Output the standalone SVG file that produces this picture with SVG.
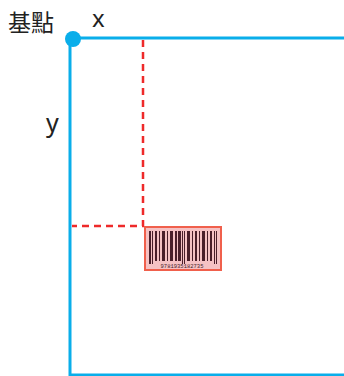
<svg xmlns="http://www.w3.org/2000/svg" width="344" height="376" viewBox="0 0 344 376">
<style>
.axis{stroke:#0aaeea;stroke-width:3;fill:none}
.guide{stroke:#ee2a2a;stroke-width:2.5;stroke-dasharray:7 5;fill:none}
.lbl{font-family:"Noto Sans CJK TC","Noto Sans",sans-serif;fill:#222}
.lat{font-family:"Noto Sans",sans-serif;fill:#222}
.bar{fill:#4a1f2a}
</style>
<rect width="344" height="376" fill="#fff"/>
<g id="connectors">
<line class="axis" x1="70" y1="38" x2="344" y2="38"/>
<line class="axis" x1="70" y1="38" x2="70" y2="376"/>
<line class="axis" x1="70" y1="375" x2="344" y2="375"/>
<path class="guide" d="M143 40 V226 H72"/>
</g>
<g id="origin">
<circle cx="73" cy="39" r="8" fill="#0aaeea"/>
<text class="lbl" x="8" y="31" font-size="23">基點</text>
</g>
<g id="xlabel"><text class="lat" x="92" y="27" font-size="24">x</text></g>
<g id="ylabel"><text class="lat" x="46" y="132" font-size="25">y</text></g>
<g id="barcode">
<rect x="145" y="227" width="76" height="43" fill="#f5c2c4" stroke="#f0604c" stroke-width="2"/>
<g class="bar">
<rect x="149" y="231" width="2" height="33"/>
<rect x="152" y="231" width="1" height="33"/>
<rect x="155" y="231" width="2" height="30"/>
<rect x="159" y="231" width="1" height="30"/>
<rect x="162" y="231" width="3" height="30"/>
<rect x="167" y="231" width="1" height="30"/>
<rect x="170" y="231" width="3" height="30"/>
<rect x="175" y="231" width="2" height="30"/>
<rect x="178" y="231" width="3" height="30"/>
<rect x="182" y="231" width="1" height="33"/>
<rect x="184" y="231" width="1" height="33"/>
<rect x="187" y="231" width="3" height="30"/>
<rect x="192" y="231" width="1" height="30"/>
<rect x="195" y="231" width="2" height="30"/>
<rect x="199" y="231" width="1" height="30"/>
<rect x="202" y="231" width="3" height="30"/>
<rect x="207" y="231" width="1" height="30"/>
<rect x="210" y="231" width="2" height="30"/>
<rect x="214" y="231" width="1" height="33"/>
<rect x="216" y="231" width="1" height="33"/>
</g>
<text x="182" y="268" font-size="5.5" text-anchor="middle" font-family="Liberation Mono,monospace" fill="#4a1f2a">9781935182735</text>
</g>
</svg>
